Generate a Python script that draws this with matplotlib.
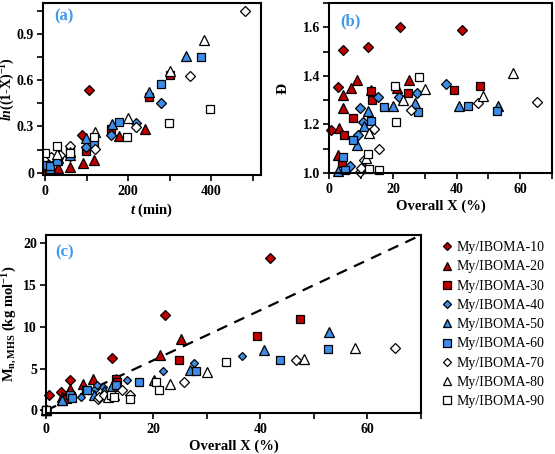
import numpy as np
from matplotlib import pyplot as plt
from matplotlib import lines
from matplotlib.ticker import MultipleLocator

plt.rcParams['font.family'] = ['Liberation Serif', 'DejaVu Serif']
plt.rcParams['mathtext.fontset'] = 'custom'
plt.rcParams['mathtext.rm'] = 'Liberation Serif:bold'
plt.rcParams['mathtext.it'] = 'Liberation Serif:bold:italic'
plt.rcParams['mathtext.bf'] = 'Liberation Serif:bold'

nan = np.nan

# Series names
labels = ['My/IBOMA-10', 'My/IBOMA-20', 'My/IBOMA-30', 'My/IBOMA-40', 'My/IBOMA-50',
          'My/IBOMA-60', 'My/IBOMA-70', 'My/IBOMA-80', 'My/IBOMA-90']

# (a) time (min) and ln((1-X)^-1)
t10 = [0, 90, 106]
v10 = [0.0, 0.245, 0.535]
t20 = [12, 30, 60, 92, 118, 178, 240]
v20 = [0.02, 0.03, 0.035, 0.062, 0.084, 0.238, 0.283]
t30 = [5, 12, 30, 98, 158, 250, 300]
v30 = [0.04, 0.047, 0.078, 0.14, 0.285, 0.49, 0.635]
t40 = [15, 30, 60, 98, 158, 220, 279]
v40 = [0.067, 0.097, 0.11, 0.165, 0.246, 0.32, 0.452]
t50 = [12, 30, 60, 98, 160, 250, 340]
v50 = [0.03, 0.093, 0.114, 0.225, 0.313, 0.52, 0.753]
t60 = [0, 12, 28, 60, 118, 178, 278, 376]
v60 = [0.05, 0.046, 0.079, 0.14, 0.19, 0.328, 0.572, 0.75]
t70 = [15, 36, 60, 120, 218, 348, 480]
v70 = [0.102, 0.114, 0.17, 0.153, 0.297, 0.628, 1.046]
t80 = [28, 60, 120, 200, 300, 382]
v80 = [0.122, 0.135, 0.264, 0.357, 0.658, 0.857]
t90 = [0, 28, 60, 118, 198, 298, 398]
v90 = [0.13, 0.17, 0.127, 0.234, 0.232, 0.324, 0.41]

# (b)/(c) overall conversion X (%), dispersity, Mn (kg/mol)
X10 = [0, 0.5, 2.8, 4.4, 12.3, 22.3, 41.8]
D10 = [nan, 1.175, 1.352, 1.507, 1.518, 1.60, 1.587]
M10 = [0, 1.8, 2.2, 3.6, 6.3, 11.4, 18.3]
X20 = [0, 2.9, 3.0, 4.2, 4.4, 6.9, 8.8, 13.0, 21.3, 25.2]
D20 = [nan, 1.075, 1.184, 1.266, 1.32, 1.348, 1.382, 1.34, 1.35, 1.382]
M20 = [0, 1.3, 1.6, 2.2, 2.6, 3.2, 3.8, 3.8, 6.6, 8.5]
X30 = [0, 3.9, 4.6, 7.5, 13.1, 13.3, 24.8, 39.3, 47.4]
D30 = [nan, 1.04, 1.157, 1.225, 1.338, 1.302, 1.33, 1.34, 1.36]
M30 = [0, 1.4, 1.7, 2.5, 3.8, 3.4, 6.1, 8.9, 11.0]
X40 = [0, 6.5, 9.2, 9.6, 10.6, 15.2, 21.8, 27.7, 36.6]
D40 = [nan, 1.03, 1.157, 1.267, 1.21, 1.314, 1.312, 1.328, 1.366]
M40 = [0, 1.6, 2.6, 3.0, 2.8, 3.6, 4.7, 5.7, 6.5]
X50 = [0, 2.9, 8.9, 10.8, 12.3, 20.2, 26.9, 40.6, 52.9]
D50 = [nan, 1.01, 1.114, 1.195, 1.255, 1.277, 1.287, 1.275, 1.277]
M50 = [0, 1.3, 1.9, 2.3, 2.9, 3.6, 4.9, 7.3, 9.4]
X60 = [0, 4.5, 4.9, 7.6, 13.1, 17.3, 28.0, 43.6, 52.7]
D60 = [nan, 1.064, 1.011, 1.136, 1.213, 1.271, 1.249, 1.275, 1.254]
M60 = [0, 1.9, 1.5, 2.5, 3.0, 3.4, 4.7, 6.0, 7.4]
X70 = [0, 9.7, 9.9, 10.8, 14.2, 15.6, 25.7, 46.7, 65.2]
D70 = [nan, 1.005, 1.02, 1.052, 1.181, 1.10, 1.26, 1.288, 1.294]
M70 = [0, 1.4, 1.6, 1.8, 2.5, 1.9, 3.4, 6.0, 7.5]
X80 = [0, 11.5, 12.6, 23.2, 30.0, 48.2, 57.6]
D80 = [nan, 1.06, 1.165, 1.30, 1.345, 1.316, 1.413]
M80 = [0, 1.6, 1.8, 3.2, 4.6, 6.2, 7.5]
X90 = [0, 12.2, 12.6, 15.7, 20.6, 21.0, 28.1, 33.6]
D90 = [nan, 1.08, 1.015, 1.012, 1.359, 1.209, 1.396, nan]
M90 = [0, 1.8, 1.6, 1.4, 3.4, 2.5, nan, 5.8]

# theoretical Mn line slope (kg/mol per % conversion)
mn_theory_slope = 0.30

t_all = [t10, t20, t30, t40, t50, t60, t70, t80, t90]
v_all = [v10, v20, v30, v40, v50, v60, v70, v80, v90]
X_all = [X10, X20, X30, X40, X50, X60, X70, X80, X90]
D_all = [D10, D20, D30, D40, D50, D60, D70, D80, D90]
M_all = [M10, M20, M30, M40, M50, M60, M70, M80, M90]

red = '#C00000'
blue = '#3B8DE8'
label_blue = '#3D98EE'
colors = [red, red, red, blue, blue, blue, 'white', 'white', 'white']
markers = ['D', '^', 's'] * 3
msizes = {'D': 4.9, '^': 7.0, 's': 6.0}

fig = plt.figure(figsize=(5.55, 4.54), dpi=100)
ax_a = fig.add_axes([0.0775, 0.6145, 0.393, 0.379])
ax_b = fig.add_axes([0.593, 0.619, 0.402, 0.3745])
ax_c = fig.add_axes([0.0829, 0.0903, 0.6757, 0.392])


def style(ax):
    for s in ['left', 'right', 'top', 'bottom']:
        ax.spines[s].set_linewidth(1.5)
    ax.tick_params(which='both', direction='out', width=1.2, labelsize=10)
    ax.tick_params(which='major', length=4)
    ax.tick_params(which='minor', length=4)
    ax.tick_params(axis='y', which='major', pad=2.5)
    for lab in ax.get_xticklabels() + ax.get_yticklabels():
        lab.set_fontweight('bold')


# (a)
for i in range(9):
    m = markers[i]
    ax_a.plot(t_all[i], v_all[i], ls='none', marker=m, ms=msizes[m], mfc=colors[i],
              mec='black', mew=0.9)
ax_a.set_xlim(-5, 520)
ax_a.set_ylim(-0.015, 1.1)
ax_a.xaxis.set_major_locator(MultipleLocator(200))
ax_a.xaxis.set_minor_locator(MultipleLocator(100))
ax_a.yaxis.set_major_locator(MultipleLocator(0.3))
ax_a.yaxis.set_minor_locator(MultipleLocator(0.15))
ax_a.set_yticks([0, 0.3, 0.6, 0.9])
ax_a.set_yticklabels(['0', '0.3', '0.6', '0.9'])
ax_a.set_xlabel('$t$ (min)', fontsize=10.5, fontweight='bold', labelpad=2)
ax_a.set_ylabel('$ln$((1-X)$^{-1}$)', fontsize=10, fontweight='bold')
ax_a.yaxis.set_label_coords(-0.117, 0.5)
ax_a.text(0.05, 0.92, '(a)', transform=ax_a.transAxes, color=label_blue,
          fontsize=12, fontweight='bold', va='center')
style(ax_a)

# (b)
for i in range(9):
    m = markers[i]
    ax_b.plot(X_all[i], D_all[i], ls='none', marker=m, ms=msizes[m], mfc=colors[i],
              mec='black', mew=0.9, clip_on=False)
ax_b.set_xlim(0, 70)
ax_b.set_ylim(1.0, 1.7)
ax_b.xaxis.set_major_locator(MultipleLocator(20))
ax_b.xaxis.set_minor_locator(MultipleLocator(10))
ax_b.yaxis.set_major_locator(MultipleLocator(0.2))
ax_b.yaxis.set_minor_locator(MultipleLocator(0.1))
ax_b.set_yticks([1.0, 1.2, 1.4, 1.6])
ax_b.set_yticklabels(['1.0', '1.2', '1.4', '1.6'])
ax_b.set_xlabel('Overall X (%)', fontsize=10.5, fontweight='bold', labelpad=2)
ax_b.set_ylabel('Đ', fontsize=11, fontweight='bold')
ax_b.yaxis.set_label_coords(-0.175, 0.5)
ax_b.text(0.05, 0.89, '(b)', transform=ax_b.transAxes, color=label_blue,
          fontsize=12, fontweight='bold', va='center')
style(ax_b)

# (c)
for i in range(9):
    m = markers[i]
    ms = msizes[m]
    if i == 3:
        ms = 3.8
    ax_c.plot(X_all[i], M_all[i], ls='none', marker=m, ms=ms, mfc=colors[i],
              mec='black', mew=0.9, clip_on=False)
x_line = np.array([0, 70])
ax_c.plot(x_line, mn_theory_slope * x_line, color='black', ls=(0, (5, 3.5)), lw=1.6, zorder=1)
ax_c.set_xlim(0, 70)
ax_c.set_ylim(-0.3, 21)
ax_c.xaxis.set_major_locator(MultipleLocator(20))
ax_c.xaxis.set_minor_locator(MultipleLocator(10))
ax_c.yaxis.set_major_locator(MultipleLocator(5))
ax_c.set_xlabel('Overall X (%)', fontsize=10.5, fontweight='bold', labelpad=2)
ax_c.set_ylabel('M$_{\\mathrm{n,MHS}}$ (kg mol$^{-1}$)', fontsize=10.5, fontweight='bold')
ax_c.yaxis.set_label_coords(-0.073, 0.5)
ax_c.text(0.025, 0.9, '(c)', transform=ax_c.transAxes, color=label_blue,
          fontsize=12, fontweight='bold', va='center')
style(ax_c)

# legend
handles = []
leg_sizes = {'D': 3.6, '^': 5.2, 's': 5.2}
for i in range(9):
    m = markers[i]
    handles.append(lines.Line2D([], [], ls='none', marker=m, ms=leg_sizes[m], mfc=colors[i],
                                mec='black', mew=0.9))
fig.legend(handles, labels, loc='upper left', bbox_to_anchor=(0.785, 0.484), frameon=False,
           fontsize=10, handlelength=0.7, handletextpad=0.3, labelspacing=0.45, borderpad=0)

fig.savefig('out.png', dpi=100)
